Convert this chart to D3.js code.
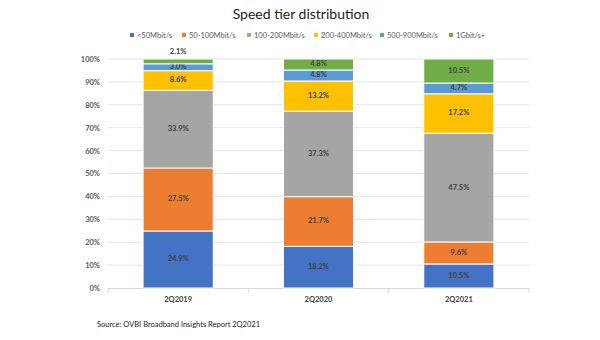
<!DOCTYPE html>
<html>
<head>
<meta charset="utf-8">
<script src="https://cdn.jsdelivr.net/npm/d3@7"></script>
<style>
  body { margin: 0; background: #fff; }
  svg { font-family: Lato, 'Open Sans', sans-serif; }
</style>
</head>
<body>
<div id="chart"></div>
<script>
var quarters = ['2Q2019', '2Q2020', '2Q2021']
var tiers = ['<50Mbit/s', '50-100Mbit/s', '100-200Mbit/s', '200-400Mbit/s', '500-900Mbit/s', '1Gbit/s+']
var tierColors = ['#4472c4', '#ed7d31', '#a5a5a5', '#ffc000', '#5b9bd5', '#70ad47']
// share of each tier per quarter, in percent
var share2019 = [24.9, 27.5, 33.9, 8.6, 3.0, 2.1]
var share2020 = [18.2, 21.7, 37.3, 13.2, 4.8, 4.8]
var share2021 = [10.5, 9.6, 47.5, 17.2, 4.7, 10.5]
var yTicks = [0, 10, 20, 30, 40, 50, 60, 70, 80, 90, 100]

var shares = [share2019, share2020, share2021]

var width = 600
var height = 340
var margin = {left: 108, right: 71, top: 59, bottom: 52}
var chartWidth = width - margin.left - margin.right
var chartHeight = height - margin.top - margin.bottom

var svg = d3.select('#chart').append('svg')
  .attr('width', width)
  .attr('height', height)

svg.append('text')
  .attr('x', 301)
  .attr('y', 19)
  .attr('text-anchor', 'middle')
  .attr('font-size', 14)
  .attr('fill', '#222')
  .text('Speed tier distribution')

// legend
var legendX = [130, 182, 247, 314, 380, 449]
var legend = svg.selectAll('.legend')
  .data(tiers)
  .enter()
  .append('g')
  .attr('class', 'legend')
  .attr('transform', function (d, i) { return 'translate(' + legendX[i] + ',36)' })
legend.append('rect')
  .attr('x', 0)
  .attr('y', -3)
  .attr('width', 4)
  .attr('height', 4)
  .attr('fill', function (d, i) { return tierColors[i] })
legend.append('text')
  .attr('x', 7)
  .attr('y', 0)
  .attr('dominant-baseline', 'middle')
  .attr('font-size', 7.5)
  .attr('fill', '#595959')
  .text(function (d) { return d })

var chart = svg.append('g')
  .attr('transform', 'translate(' + margin.left + ',' + margin.top + ')')

var xScale = d3.scaleBand()
  .domain(quarters)
  .range([0, chartWidth])
  .paddingInner(0.5)
  .paddingOuter(0.25)

var yScale = d3.scaleLinear()
  .domain([0, 100])
  .range([chartHeight, 0])

// gridlines
chart.selectAll('.grid')
  .data(yTicks.slice(1))
  .enter()
  .append('line')
  .attr('x1', 0)
  .attr('x2', chartWidth)
  .attr('y1', function (d) { return yScale(d) })
  .attr('y2', function (d) { return yScale(d) })
  .attr('stroke', '#e3e3e3')
  .attr('stroke-width', 1)

var yAxis = d3.axisLeft(yScale)
  .tickValues(yTicks)
  .tickSize(0)
  .tickPadding(8)
  .tickFormat(function (d) { return d + '%' })
var yAxisElement = chart.append('g').call(yAxis)
yAxisElement.select('.domain').remove()
yAxisElement.selectAll('text')
  .attr('font-size', 7.5)
  .attr('font-weight', 'bold')
  .attr('fill', '#595959')
  .attr('font-family', 'Lato, sans-serif')

// baseline with category separators
chart.append('line')
  .attr('x1', 0)
  .attr('x2', chartWidth)
  .attr('y1', chartHeight + 0.5)
  .attr('y2', chartHeight + 0.5)
  .attr('stroke', '#d9d9d9')
var slot = chartWidth / quarters.length
chart.selectAll('.sep')
  .data(d3.range(quarters.length + 1))
  .enter()
  .append('line')
  .attr('x1', function (i) { return i * slot })
  .attr('x2', function (i) { return i * slot })
  .attr('y1', chartHeight)
  .attr('y2', chartHeight + 5)
  .attr('stroke', '#d9d9d9')

var xAxis = d3.axisBottom(xScale).tickSize(0).tickPadding(9)
var xAxisElement = chart.append('g')
  .attr('transform', 'translate(0,' + chartHeight + ')')
  .call(xAxis)
xAxisElement.select('.domain').remove()
xAxisElement.selectAll('text')
  .attr('font-size', 7.5)
  .attr('font-weight', 'bold')
  .attr('fill', '#404040')
  .attr('font-family', 'Lato, sans-serif')

// stacked segments
var rows = quarters.map(function (q, qi) {
  var row = {quarter: q}
  tiers.forEach(function (t, ti) { row[t] = shares[qi][ti] })
  return row
})
var series = d3.stack().keys(tiers)(rows)

var layers = chart.selectAll('.layer')
  .data(series)
  .enter()
  .append('g')
  .attr('class', 'layer')
  .attr('fill', function (d, i) { return tierColors[i] })

layers.selectAll('rect')
  .data(function (d) { return d })
  .enter()
  .append('rect')
  .attr('x', function (d) { return xScale(d.data.quarter) })
  .attr('y', function (d) { return yScale(d[1]) })
  .attr('width', xScale.bandwidth())
  .attr('height', function (d) { return yScale(d[0]) - yScale(d[1]) })
  .attr('stroke', '#fff')
  .attr('stroke-width', 1)

// value labels; thin segments get their label above the bar
layers.selectAll('.value')
  .data(function (d) { return d })
  .enter()
  .append('text')
  .attr('class', 'value')
  .attr('x', function (d) { return xScale(d.data.quarter) + xScale.bandwidth() / 2 })
  .attr('y', function (d) {
    if (d[1] - d[0] < 2.5) return yScale(d[1]) - 7
    return yScale((d[0] + d[1]) / 2)
  })
  .attr('text-anchor', 'middle')
  .attr('dominant-baseline', 'middle')
  .attr('font-size', 7.5)
  .attr('font-weight', 'bold')
  .attr('fill', '#404040')
  .text(function (d) { return (d[1] - d[0]).toFixed(1) + '%' })

svg.append('text')
  .attr('x', 97)
  .attr('y', 327)
  .attr('font-size', 7.5)
  .attr('fill', '#222')
  .text('Source: OVBI Broadband Insights Report 2Q2021')
</script>
</body>
</html>
